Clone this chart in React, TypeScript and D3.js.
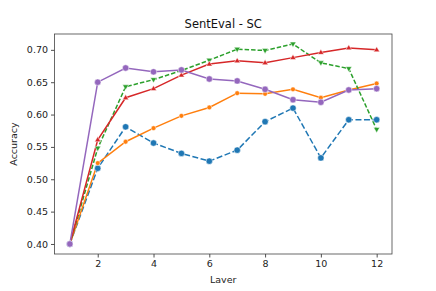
import React, { useEffect, useRef } from 'react';
import * as d3 from 'd3';

const layers = [1, 2, 3, 4, 5, 6, 7, 8, 9, 10, 11, 12];
const blueVals = [0.4, 0.517, 0.581, 0.556, 0.54, 0.528, 0.545, 0.589, 0.61, 0.533, 0.592, 0.592];
const orangeVals = [0.4, 0.525, 0.558, 0.579, 0.598, 0.611, 0.633, 0.632, 0.639, 0.626, 0.638, 0.648];
const greenVals = [0.4, 0.548, 0.643, 0.654, 0.668, 0.684, 0.701, 0.699, 0.709, 0.68, 0.671, 0.577];
const redVals = [0.4, 0.561, 0.626, 0.64, 0.661, 0.678, 0.683, 0.68, 0.688, 0.696, 0.703, 0.7];
const purpleVals = [0.4, 0.65, 0.672, 0.666, 0.669, 0.655, 0.652, 0.639, 0.623, 0.619, 0.638, 0.64];
const xTicks = [2, 4, 6, 8, 10, 12];
const yTicks = [0.4, 0.45, 0.5, 0.55, 0.6, 0.65, 0.7];

const seriesList = [
  { name: 'blue', values: blueVals, color: '#1f77b4', dash: '6,2.5', marker: 'circle', size: 3.2 },
  { name: 'orange', values: orangeVals, color: '#ff7f0e', dash: '', marker: 'circle', size: 2.4 },
  { name: 'green', values: greenVals, color: '#2ca02c', dash: '4.5,2', marker: 'down', size: 3.2 },
  { name: 'red', values: redVals, color: '#d62728', dash: '', marker: 'up', size: 3.2 },
  { name: 'purple', values: purpleVals, color: '#9467bd', dash: '', marker: 'circle', size: 3.2 }
];

const App = () => {
  const svgRef = useRef(null);

  useEffect(() => {
    const width = 436;
    const height = 291;
    const margin = { top: 34, right: 44, bottom: 37, left: 54.5 };
    const font = 'DejaVu Sans, sans-serif';

    d3.select(svgRef.current).selectAll('*').remove();

    const svg = d3.select(svgRef.current)
      .attr('width', width)
      .attr('height', height)
      .style('display', 'block');

    svg.append('rect').attr('width', width).attr('height', height).attr('fill', '#fff');

    const xScale = d3.scaleLinear()
      .domain([0.45, 12.55])
      .range([margin.left, width - margin.right]);

    const yScale = d3.scaleLinear()
      .domain([0.3845, 0.7245])
      .range([height - margin.bottom, margin.top]);

    // X axis
    const xAxis = svg.append('g')
      .attr('transform', `translate(0,${height - margin.bottom})`)
      .call(d3.axisBottom(xScale).tickValues(xTicks).tickSize(3.5).tickPadding(3).tickFormat(d => String(d)));
    xAxis.select('.domain').remove();
    xAxis.selectAll('text').style('font-family', font).style('font-size', '9.5px').attr('fill', '#222');
    xAxis.selectAll('line').attr('stroke', '#222').attr('stroke-width', 0.8);

    // Y axis
    const yAxis = svg.append('g')
      .attr('transform', `translate(${margin.left},0)`)
      .call(d3.axisLeft(yScale).tickValues(yTicks).tickSize(3.5).tickPadding(3).tickFormat(d3.format('.2f')));
    yAxis.select('.domain').remove();
    yAxis.selectAll('text').style('font-family', font).style('font-size', '9.5px').attr('fill', '#222');
    yAxis.selectAll('line').attr('stroke', '#222').attr('stroke-width', 0.8);

    const clip = svg.append('g');

    const line = d3.line<number>()
      .x((_, i) => xScale(layers[i]))
      .y(d => yScale(d));

    seriesList.forEach(s => {
      clip.append('path')
        .datum(s.values)
        .attr('d', line)
        .attr('fill', 'none')
        .attr('stroke', s.color)
        .attr('stroke-width', 1.5)
        .attr('stroke-dasharray', s.dash || null);
    });

    seriesList.forEach(s => {
      s.values.forEach((v, i) => {
        const cx = xScale(layers[i]);
        const cy = yScale(v);
        if (s.marker === 'circle') {
          clip.append('circle')
            .attr('cx', cx).attr('cy', cy).attr('r', s.size)
            .attr('fill', s.color).attr('stroke', '#fff').attr('stroke-width', 0.5);
        } else {
          const r = s.size;
          const dir = s.marker === 'up' ? -1 : 1;
          const pts = [
            [cx, cy + dir * r],
            [cx - r * 0.95, cy - dir * r * 0.6],
            [cx + r * 0.95, cy - dir * r * 0.6]
          ];
          clip.append('path')
            .attr('d', d3.line()(pts as [number, number][]) + 'Z')
            .attr('fill', s.color).attr('stroke', '#fff').attr('stroke-width', 0.5);
        }
      });
    });

    // Frame
    svg.append('rect')
      .attr('x', margin.left)
      .attr('y', margin.top)
      .attr('width', width - margin.left - margin.right)
      .attr('height', height - margin.top - margin.bottom)
      .attr('fill', 'none')
      .attr('stroke', '#444')
      .attr('stroke-width', 0.8);

    // Title
    svg.append('text')
      .attr('x', (margin.left + width - margin.right) / 2)
      .attr('y', margin.top - 6)
      .attr('text-anchor', 'middle')
      .style('font-family', font)
      .style('font-size', '11.5px')
      .attr('fill', '#111')
      .text('SentEval - SC');

    // Axis labels
    svg.append('text')
      .attr('x', (margin.left + width - margin.right) / 2)
      .attr('y', height - 8)
      .attr('text-anchor', 'middle')
      .style('font-family', font)
      .style('font-size', '9.5px')
      .attr('fill', '#222')
      .text('Layer');

    svg.append('text')
      .attr('transform', `translate(${17},${(margin.top + height - margin.bottom) / 2}) rotate(-90)`)
      .attr('text-anchor', 'middle')
      .style('font-family', font)
      .style('font-size', '9.5px')
      .attr('fill', '#222')
      .text('Accuracy');
  }, []);

  return (
    <div style={{ margin: -8 }}>
      <svg ref={svgRef}></svg>
    </div>
  );
};

export default App;
